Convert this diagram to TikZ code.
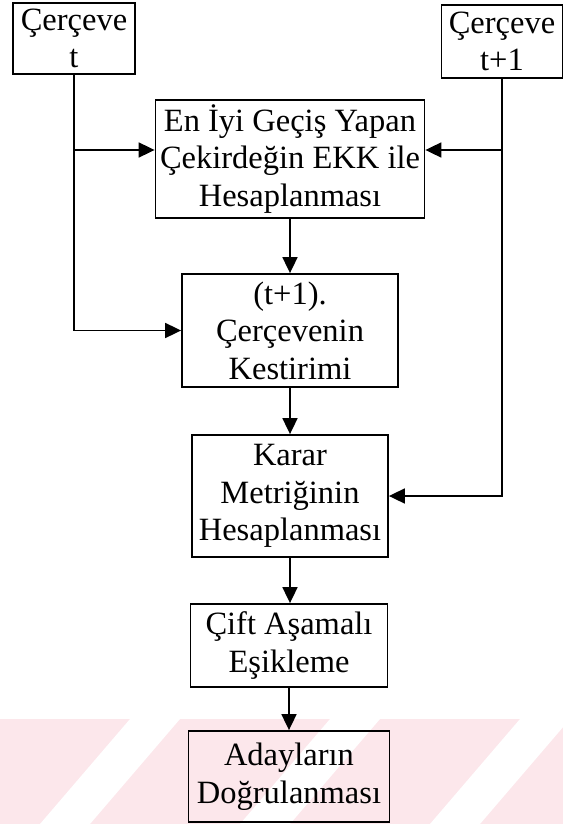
\documentclass[tikz,border=0pt]{standalone}
\usepackage{fontspec}
\setmainfont{Liberation Serif}
\usetikzlibrary{arrows.meta}
\definecolor{wmpink}{RGB}{252,231,235}
\begin{document}
\begin{tikzpicture}[x=1pt,y=-1pt,
  box/.style={draw, line width=1.8pt, align=center, inner sep=0pt,
    font=\fontsize{32.5}{37.5}\selectfont},
  conn/.style={line width=1.8pt},
  arr/.style={conn, -{Triangle[length=16pt,width=15pt]}}]
\useasboundingbox (0,0) rectangle (563,824);
% watermark band
\fill[wmpink] (0,719) rectangle (563,824);
\foreach \s in {130,330,520}{
  \fill[white] (\s,719) -- (\s+50,719) -- (\s-40,824) -- (\s-90,824) -- cycle;
}
% boxes
\node[box, minimum width=122pt, minimum height=71pt] (ft) at (74,38.5) {Çerçeve\\t};
\node[box, minimum width=121pt, minimum height=73pt] (ft1) at (502,41.5) {Çerçeve\\t+1};
\node[box, minimum width=269pt, minimum height=118pt] (ekk) at (290,159) {En İyi Geçiş Yapan\\Çekirdeğin EKK ile\\Hesaplanması};
\node[box, minimum width=216pt, minimum height=113pt] (kest) at (290,330.5) {(t+1).\\Çerçevenin\\Kestirimi};
\node[box, minimum width=196pt, minimum height=122pt] (karar) at (290,496) {Karar\\Metriğinin\\Hesaplanması};
\node[box, minimum width=197pt, minimum height=83pt] (cift) at (289,645.5) {Çift Aşamalı\\Eşikleme};
\node[box, minimum width=201pt, minimum height=91pt] (aday) at (289,776.5) {Adayların\\Doğrulanması};
\coordinate (ekkL) at ([yshift=9pt]ekk.west);
\coordinate (ekkR) at ([yshift=9pt]ekk.east);
% connectors
\draw[arr] (ft.south) |- (kest.west);
\draw[arr] (ft.south |- ekkL) -- (ekkL);
\draw[arr] (ft1.south) |- (karar.east);
\draw[arr] (ft1.south |- ekkR) -- (ekkR);
\draw[arr] (ekk.south) -- (kest.north);
\draw[arr] (kest.south) -- (karar.north);
\draw[arr] (karar.south) -- (karar.south |- cift.north);
\draw[arr] (cift.south) -- (aday.north);
\end{tikzpicture}
\end{document}
